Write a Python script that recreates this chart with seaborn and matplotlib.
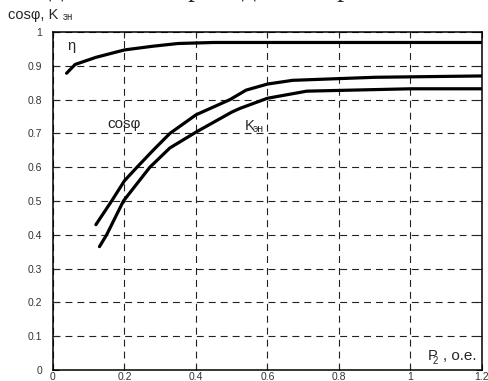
import matplotlib
matplotlib.use("Agg")
import matplotlib.pyplot as plt
import seaborn as sns
import pandas as pd

# --- data ---
eta_x = [0.038, 0.062, 0.12, 0.2, 0.28, 0.35, 0.45, 0.6, 0.8, 1.0, 1.2]
eta_y = [0.878, 0.904, 0.925, 0.947, 0.958, 0.966, 0.969, 0.969, 0.969, 0.969, 0.969]

cos_x = [0.12, 0.164, 0.2, 0.235, 0.28, 0.327, 0.4, 0.495, 0.54, 0.6, 0.67, 0.9, 1.2]
cos_y = [0.43, 0.50, 0.56, 0.60, 0.65, 0.70, 0.755, 0.80, 0.828, 0.846, 0.857, 0.866, 0.87]

k_x = [0.13, 0.15, 0.197, 0.271, 0.327, 0.402, 0.5, 0.523, 0.6, 0.71, 1.0, 1.2]
k_y = [0.365, 0.40, 0.50, 0.60, 0.657, 0.705, 0.763, 0.774, 0.804, 0.825, 0.832, 0.832]

x_ticks = [0, 0.2, 0.4, 0.6, 0.8, 1.0, 1.2]
x_labels = ["0", "0.2", "0.4", "0.6", "0.8", "1", "1.2"]
y_ticks = [0, 0.1, 0.2, 0.3, 0.4, 0.5, 0.6, 0.7, 0.8, 0.9, 1.0]
y_labels = ["0", "0.1", "0.2", "0.3", "0.4", "0.5", "0.6", "0.7", "0.8", "0.9", "1"]

sns.set_style("white")
plt.rcParams["font.family"] = ["Liberation Sans", "DejaVu Sans"]
plt.rcParams["lines.scale_dashes"] = False

W, H = 489, 381
fig = plt.figure(figsize=(W / 100, H / 100), dpi=100)
L, R, T, B = 53, 482, 32, 370
ax = fig.add_axes([L / W, 1 - B / H, (R - L) / W, (B - T) / H])

df = pd.concat([
    pd.DataFrame({"x": eta_x, "y": eta_y, "s": "eta"}),
    pd.DataFrame({"x": cos_x, "y": cos_y, "s": "cos"}),
    pd.DataFrame({"x": k_x, "y": k_y, "s": "k"}),
])
sns.lineplot(data=df, x="x", y="y", units="s", estimator=None, sort=False,
             color="black", lw=2.3, ax=ax, legend=False)

ax.set_xlim(0, 1.2)
ax.set_ylim(0, 1)
ax.set_xticks(x_ticks)
ax.set_xticklabels(x_labels)
ax.set_yticks(y_ticks)
ax.set_yticklabels(y_labels)
ax.set_xlabel("")
ax.set_ylabel("")
ax.tick_params(direction="in", length=4, width=0.8, labelsize=7.5, labelcolor="#333",
               top=True, right=True, bottom=True, left=True)
ax.tick_params(axis="x", pad=1.5)
ax.tick_params(axis="y", pad=8)
ax.grid(True, color="#222", lw=0.8, linestyle=(0, (5, 3.6)))
for sp in ax.spines.values():
    sp.set_visible(True)
    sp.set_color("black")
    sp.set_linewidth(1.1)

# curve labels
ax.text(0.052, 0.958, "η", fontsize=10.5, ha="center", va="center")
ax.text(0.2, 0.728, "cosφ", fontsize=11, ha="center", va="center")
ax.text(0.535, 0.722, "K", fontsize=10.5, ha="left", va="center")
ax.text(0.558, 0.712, "эн", fontsize=7.5, ha="left", va="center")
ax.text(1.049, 0.040, "P", fontsize=10.5, ha="left", va="center")
ax.text(1.063, 0.028, "2", fontsize=7, ha="left", va="center")
ax.text(1.09, 0.040, ", o.e.", fontsize=11, ha="left", va="center")

# axis caption at top-left
fig.text(8 / W, 1 - 15 / H, "cosφ, K", fontsize=10.5, ha="left", va="center")
fig.text(63 / W, 1 - 17 / H, "эн", fontsize=7, ha="left", va="center")

# clipped document text at the very top
fig.text(413 / W, 1 + 4 / H, "мете двигателя приведена на рис. 2.",
         fontsize=20, ha="right", va="baseline", family=["Liberation Serif", "DejaVu Serif"])

fig.savefig("out.png", dpi=100)
